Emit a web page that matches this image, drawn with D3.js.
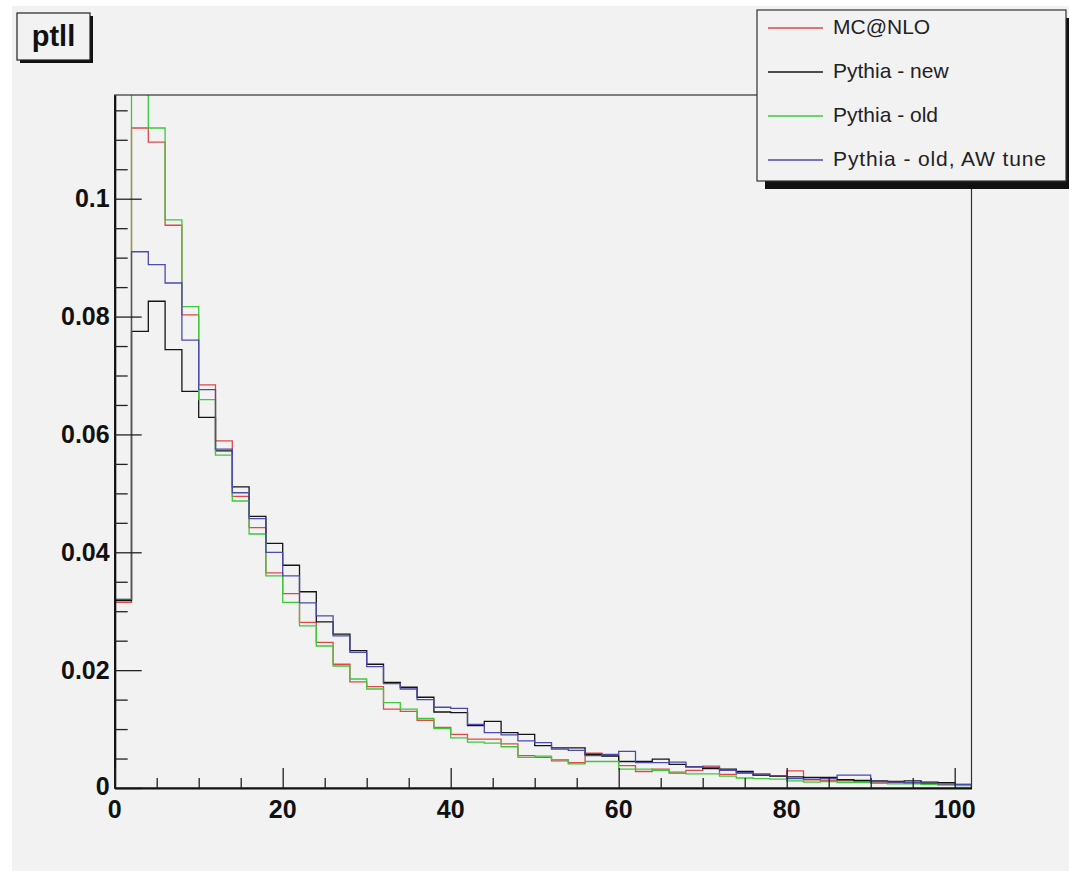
<!DOCTYPE html>
<html>
<head>
<meta charset="utf-8">
<script src="https://cdn.jsdelivr.net/npm/d3@7"></script>
<style>
  body { margin: 0; background: #fff; }
  svg { display: block; font-family: "Liberation Sans", Arial, sans-serif; }
</style>
</head>
<body>
<svg id="chart"></svg>
<script>
// histogram bins: 2 GeV wide, 0 -> 102
const binWidth = 2
const nBins = 51

const mcnlo = [0.0315, 0.112, 0.1096, 0.0955, 0.0803, 0.0684, 0.0589, 0.0495, 0.0442, 0.0365,
  0.0330, 0.0281, 0.0247, 0.0210, 0.0180, 0.0172, 0.0134, 0.0130, 0.0115, 0.0103,
  0.0091, 0.0083, 0.0083, 0.0075, 0.0055, 0.0052, 0.0046, 0.0043, 0.0059, 0.0055,
  0.0038, 0.0028, 0.0032, 0.0027, 0.0030, 0.0037, 0.0023, 0.0025, 0.0022, 0.0020,
  0.0029, 0.0014, 0.0013, 0.0012, 0.0011, 0.0010, 0.0009, 0.0008, 0.0007, 0.0006, 0.0006]

const pythiaNew = [0.0318, 0.0775, 0.0826, 0.0744, 0.0673, 0.0629, 0.0572, 0.0511, 0.0461, 0.0415,
  0.0378, 0.0333, 0.0282, 0.0261, 0.0233, 0.0210, 0.0179, 0.0171, 0.0154, 0.0129,
  0.0128, 0.0106, 0.0113, 0.0094, 0.0091, 0.0072, 0.0068, 0.0068, 0.0057, 0.0054,
  0.0045, 0.0045, 0.0049, 0.0040, 0.0036, 0.0033, 0.0032, 0.0028, 0.0022, 0.0020,
  0.0019, 0.0018, 0.0018, 0.0014, 0.0013, 0.0012, 0.0011, 0.0012, 0.0010, 0.0009, 0.0005]

const pythiaOld = [0.0320, 0.1190, 0.1120, 0.0964, 0.0817, 0.0659, 0.0565, 0.0487, 0.0431, 0.0360,
  0.0315, 0.0275, 0.0241, 0.0207, 0.0185, 0.0168, 0.0145, 0.0134, 0.0118, 0.0101,
  0.0085, 0.0078, 0.0076, 0.0070, 0.0052, 0.0054, 0.0048, 0.0041, 0.0045, 0.0045,
  0.0032, 0.0032, 0.0030, 0.0025, 0.0024, 0.0024, 0.0020, 0.0017, 0.0016, 0.0015,
  0.0012, 0.0010, 0.0011, 0.0009, 0.0009, 0.0008, 0.0007, 0.0007, 0.0006, 0.0005, 0.0004]

const pythiaAW = [0.0320, 0.0910, 0.0888, 0.0857, 0.0760, 0.0676, 0.0575, 0.0501, 0.0457, 0.0400,
  0.0360, 0.0314, 0.0292, 0.0258, 0.0230, 0.0206, 0.0177, 0.0168, 0.0150, 0.0137,
  0.0135, 0.0108, 0.0094, 0.0090, 0.0080, 0.0077, 0.0066, 0.0064, 0.0055, 0.0057,
  0.0062, 0.0043, 0.0043, 0.0044, 0.0036, 0.0035, 0.0030, 0.0026, 0.0024, 0.0021,
  0.0016, 0.0015, 0.0016, 0.0022, 0.0022, 0.0011, 0.0010, 0.0009, 0.0008, 0.0007, 0.0006]

const seriesNames = ["MC@NLO", "Pythia - new", "Pythia - old", "Pythia - old, AW tune"]
const seriesColors = ["#e04848", "#141414", "#3cc83c", "#4a4ab0"]
const seriesValues = [mcnlo, pythiaNew, pythiaOld, pythiaAW]

const yTickLabels = [0, 0.02, 0.04, 0.06, 0.08, 0.1]
const xTickLabels = [0, 20, 40, 60, 80, 100]

const W = 1069, H = 871
const frame = {left: 114.7, right: 971.5, top: 95, bottom: 788}
const bg = "#f2f2f2"

const svg = d3.select("#chart").attr("width", W).attr("height", H)

svg.append("rect").attr("x", 12).attr("y", 6).attr("width", W - 12).attr("height", H - 6).attr("fill", bg)

const x = d3.scaleLinear().domain([0, nBins * binWidth]).range([frame.left, frame.right])
// ROOT puts max at 1.05 x first histogram's max
const y = d3.scaleLinear().domain([0, d3.max(mcnlo) * 1.05]).range([frame.bottom, frame.top])

svg.append("defs").append("clipPath").attr("id", "plotclip")
  .append("rect")
  .attr("x", frame.left).attr("y", frame.top)
  .attr("width", frame.right - frame.left).attr("height", frame.bottom - frame.top)

// histograms as step outlines
function histPoints(vals) {
  const pts = [[0, 0]]
  vals.forEach((v, i) => {
    pts.push([i * binWidth, v])
    pts.push([(i + 1) * binWidth, v])
  })
  pts.push([vals.length * binWidth, 0])
  return pts
}

const line = d3.line().x(d => x(d[0])).y(d => y(d[1]))

const hists = svg.append("g").attr("clip-path", "url(#plotclip)")
seriesValues.forEach((vals, i) => {
  hists.append("path")
    .attr("d", line(histPoints(vals)))
    .attr("fill", "none")
    .attr("stroke", seriesColors[i])
    .attr("stroke-width", 1.3)
})

// frame
svg.append("rect")
  .attr("x", frame.left).attr("y", frame.top)
  .attr("width", frame.right - frame.left).attr("height", frame.bottom - frame.top)
  .attr("fill", "none").attr("stroke", "#333").attr("stroke-width", 1.2)

// y axis: ticks inside the frame
const yAxis = d3.axisRight(y)
  .tickValues(d3.range(0, 0.1176, 0.005))
  .tickSizeOuter(0)
  .tickSizeInner(13)
  .tickFormat("")
const yg = svg.append("g").attr("transform", `translate(${frame.left},0)`).call(yAxis)
yg.select(".domain").attr("stroke", "#111").attr("stroke-width", 2.2)
yg.selectAll(".tick line")
  .attr("stroke", "#222").attr("stroke-width", 1.3)
  .attr("x2", d => Math.abs(Math.round(d / 0.02) * 0.02 - d) < 1e-6 ? 27 : 13)

svg.append("g").selectAll("text")
  .data(yTickLabels)
  .join("text")
  .attr("x", frame.left - 5)
  .attr("y", d => y(d) + (d === 0 ? 0 : 2))
  .attr("text-anchor", "end")
  .attr("dominant-baseline", "middle")
  .attr("font-size", 25)
  .attr("font-weight", "bold")
  .attr("fill", "#111")
  .text(d => d)

// x axis
const xAxis = d3.axisTop(x)
  .tickValues(d3.range(0, 101, 5))
  .tickSizeOuter(0)
  .tickSizeInner(10)
  .tickFormat("")
const xg = svg.append("g").attr("transform", `translate(0,${frame.bottom})`).call(xAxis)
xg.select(".domain").attr("stroke", "#111").attr("stroke-width", 2.2)
xg.selectAll(".tick line")
  .attr("stroke", "#222").attr("stroke-width", 1.3)
  .attr("y2", d => d % 20 === 0 ? -20 : -10)

svg.append("g").selectAll("text")
  .data(xTickLabels)
  .join("text")
  .attr("x", d => x(d))
  .attr("y", frame.bottom + 30)
  .attr("text-anchor", "middle")
  .attr("font-size", 25)
  .attr("font-weight", "bold")
  .attr("fill", "#111")
  .text(d => d)

// title box
const title = svg.append("g")
title.append("rect").attr("x", 20).attr("y", 16).attr("width", 73).attr("height", 47).attr("fill", "#111")
title.append("rect").attr("x", 17).attr("y", 13).attr("width", 73).attr("height", 47)
  .attr("fill", bg).attr("stroke", "#222").attr("stroke-width", 1.2)
title.append("text").attr("x", 53.5).attr("y", 46)
  .attr("text-anchor", "middle").attr("font-size", 29).attr("font-weight", "bold")
  .attr("fill", "#111").text("ptll")

// legend
const leg = {x: 757, y: 10, w: 309, h: 171}
const lg = svg.append("g")
lg.append("rect").attr("x", leg.x + 8).attr("y", leg.y + 8).attr("width", leg.w).attr("height", leg.h).attr("fill", "#111")
lg.append("rect").attr("x", leg.x).attr("y", leg.y).attr("width", leg.w).attr("height", leg.h)
  .attr("fill", bg).attr("stroke", "#333").attr("stroke-width", 1.2)

const rowY = d3.scalePoint().domain(seriesNames).range([28, 160])
seriesNames.forEach((name, i) => {
  lg.append("line")
    .attr("x1", 768).attr("x2", 823)
    .attr("y1", rowY(name)).attr("y2", rowY(name))
    .attr("stroke", seriesColors[i]).attr("stroke-width", 1.5)
  lg.append("text")
    .attr("x", 833).attr("y", rowY(name))
    .attr("dominant-baseline", "middle")
    .attr("font-size", 21)
    .attr("fill", "#222")
    .attr("textLength", name === "Pythia - old, AW tune" ? 213 : null)
    .text(name)
})
</script>
</body>
</html>
